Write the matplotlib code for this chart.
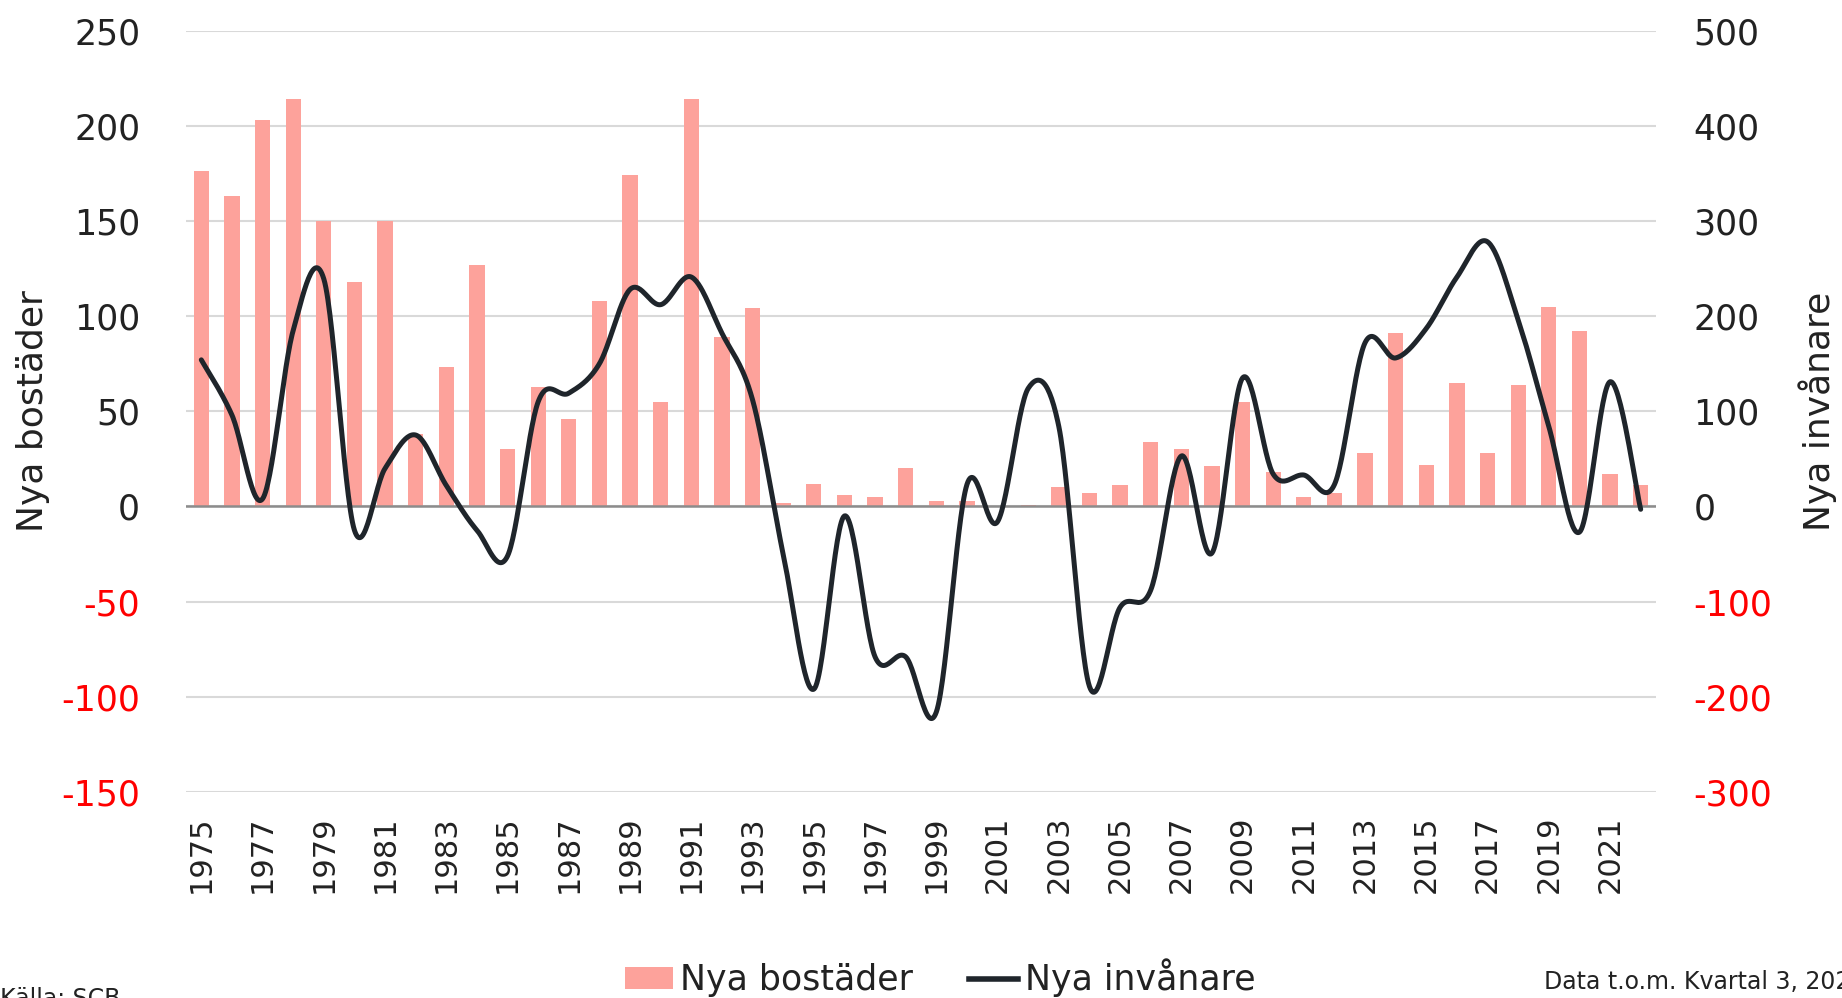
import numpy as np
import matplotlib
matplotlib.use('Agg')
import matplotlib.pyplot as plt
from matplotlib.lines import Line2D
from matplotlib.patches import Patch

plt.rcParams['font.family'] = ['DejaVu Sans']

years = list(range(1975, 2023))
nya_bostader = [176, 163, 203, 214, 150, 118, 150, 38, 73, 127,
                30, 63, 46, 108, 174, 55, 214, 89, 104, 2,
                12, 6, 5, 20, 3, 3, 0, 1, 10, 7,
                11, 34, 30, 21, 55, 18, 5, 7, 28, 91,
                22, 65, 28, 64, 105, 92, 17, 11]
nya_invanare = [154, 96, 8, 185, 239, -25, 40, 75, 22, -25,
                -52, 110, 119, 150, 228, 212, 241, 182, 112, -50,
                -192, -10, -158, -158, -216, 23, -16, 124, 84, -189,
                -106, -88, 53, -49, 135, 34, 33, 23, 172, 156,
                187, 241, 278, 196, 84, -27, 131, -3]

left_ticks = [250, 200, 150, 100, 50, 0, -50, -100, -150]
right_ticks = [500, 400, 300, 200, 100, 0, -100, -200, -300]

BAR_COLOR = '#FDA29B'
LINE_COLOR = '#1F252B'


def smooth_curve(xs, ys, n=30):
    """Excel-like smoothed line (Catmull-Rom as cubic Bezier)."""
    P = np.column_stack([xs, ys]).astype(float)
    m = len(P)
    out = []
    for i in range(m - 1):
        p0 = P[i - 1] if i > 0 else P[i]
        p1 = P[i]
        p2 = P[i + 1]
        p3 = P[i + 2] if i + 2 < m else P[i + 1]
        c1 = p1 + (p2 - p0) / 6.0
        c2 = p2 - (p3 - p1) / 6.0
        t = np.linspace(0, 1, n, endpoint=(i == m - 2))[:, None]
        seg = ((1 - t) ** 3) * p1 + 3 * ((1 - t) ** 2) * t * c1 + 3 * (1 - t) * t ** 2 * c2 + t ** 3 * p2
        out.append(seg)
    out = np.vstack(out)
    return out[:, 0], out[:, 1]


fig = plt.figure(figsize=(18.42, 9.98), dpi=100)
ax = fig.add_axes([186 / 1842, 1 - 792 / 998, (1656 - 186) / 1842, (792 - 30.5) / 998])
ax2 = ax.twinx()

x = np.arange(len(years))
ax.bar(x, nya_bostader, width=0.5, color=BAR_COLOR, zorder=2)
ax.axhline(0, color='#8C8C8C', lw=1.8, zorder=3)

sx, sy = smooth_curve(x, nya_invanare)
ax2.plot(sx, sy, color=LINE_COLOR, lw=3.6, solid_capstyle='round', zorder=4)

ax.set_xlim(-0.5, len(years) - 0.5)
ax.set_ylim(-150, 250)
ax2.set_ylim(-300, 500)
ax.set_yticks(left_ticks)
ax2.set_yticks(right_ticks)
ax.set_yticklabels([str(v) for v in left_ticks])
ax2.set_yticklabels([str(v) for v in right_ticks])

ax.grid(axis='y', color='#D9D9D9', lw=1.5, zorder=0)
ax.set_axisbelow(True)

ax.set_xticks(x[::2])
ax.set_xticklabels([str(y) for y in years[::2]], rotation=90, fontsize=22, color='#222222')

for a in (ax, ax2):
    for s in a.spines.values():
        s.set_visible(False)
    a.tick_params(length=0)

ax.tick_params(axis='y', labelsize=25, pad=33)
ax2.tick_params(axis='y', labelsize=25, pad=27)
ax.tick_params(axis='x', pad=17)

for lbl, v in zip(ax.get_yticklabels(), left_ticks):
    lbl.set_color('#FF0000' if v < 0 else '#222222')
for lbl, v in zip(ax2.get_yticklabels(), right_ticks):
    lbl.set_color('#FF0000' if v < 0 else '#222222')

ax.set_ylabel('Nya bostäder', fontsize=26, color='#222222')
ax2.set_ylabel('Nya invånare', fontsize=26, color='#222222')
ax.yaxis.set_label_coords((33 - 186) / 1470, 0.5)
ax2.yaxis.set_label_coords((1818 - 186) / 1470, 0.5)
ax.yaxis.label.set_va('center')
ax2.yaxis.label.set_va('center')

handles = [Patch(facecolor=BAR_COLOR, edgecolor='none'),
           Line2D([0], [0], color=LINE_COLOR, lw=4)]
fig.legend(handles, ['Nya bostäder', 'Nya invånare'], loc='center',
           bbox_to_anchor=(940 / 1842, 1 - 978 / 998), ncol=2, frameon=False,
           fontsize=25, handlelength=1.4, handleheight=0.6, handletextpad=0.2,
           columnspacing=1.6, labelcolor='#222222')

fig.text(0.0, 1 - 987 / 998, 'Källa: SCB', fontsize=17, ha='left', va='top', color='#222222')
fig.text(1544 / 1842, 1 - 982 / 998, 'Data t.o.m. Kvartal 3, 2022', fontsize=17,
         ha='left', va='center', color='#222222')

fig.savefig('out.png', dpi=100)
